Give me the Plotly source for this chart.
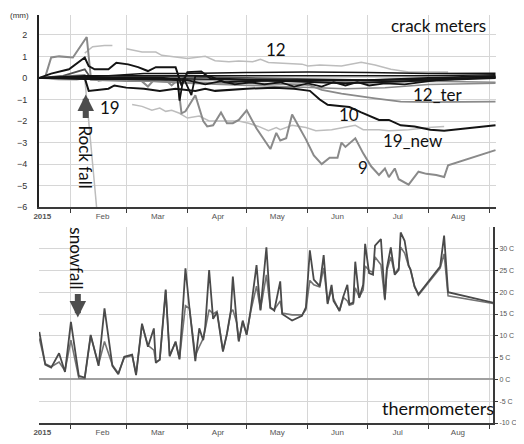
import plotly.graph_objects as go

# ---------------- crack meters (mm) ----------------
s9_dates = ["01-16","01-19","01-22","01-26","02-02","02-09","02-11","02-15","03-01","03-07","03-12","03-16","03-21","03-24","03-27","03-29","03-31","04-05","04-09","04-11","04-14","04-18","04-21","04-24","04-27","05-01","05-06","05-13","05-16","05-18","05-21","05-24","05-31","06-04","06-08","06-12","06-16","06-18","06-20","06-25","06-29","07-03","07-07","07-10","07-12","07-15","07-17","07-22","07-27","07-31","08-05","08-09","08-11","09-04"]
s9_vals = [0,0.05,0.95,1.0,0.95,1.9,0.1,-0.13,0.1,0.0,-0.4,0.0,-0.1,-0.35,-0.1,-1.64,-1.55,-0.8,-2.0,-2.25,-2.2,-1.6,-2.1,-2.1,-1.95,-1.5,-2.35,-3.3,-2.55,-2.9,-2.8,-1.7,-2.85,-3.6,-4.0,-3.7,-3.7,-3.0,-3.2,-2.8,-3.5,-4.1,-4.5,-4.2,-4.6,-4.2,-4.7,-4.95,-4.35,-4.45,-4.5,-4.6,-4.05,-3.35]

s10_dates = ["01-16","02-01","02-08","02-10","02-20","02-23","03-01","03-10","03-18","03-26","04-05","04-10","04-15","05-01","05-15","05-25","06-02","06-07","06-11","06-17","06-22","06-28","07-07","07-12","07-18","07-25","08-02","08-09","09-04"]
s10_vals = [0,0.02,0.0,-0.6,-0.5,-0.35,-0.45,-0.5,-0.6,-0.5,-0.6,-0.5,-0.6,-0.5,-0.45,-0.5,-0.6,-1.0,-1.25,-1.3,-1.35,-1.6,-1.95,-1.95,-2.2,-2.25,-2.4,-2.45,-2.2]

s12_dates = ["02-08","02-12","02-18","02-22","02-25","03-01","03-09","03-16","03-19","04-01","04-10","04-15","04-22","04-27","05-04","05-08","05-12","05-29","06-01","06-07","06-18","06-28","07-05","07-13","07-22","08-11"]
s12_vals = [1.15,1.45,1.5,1.5,None,1.35,1.2,1.2,1.05,0.9,1.0,0.8,0.75,0.78,0.75,0.86,0.72,0.64,0.55,0.6,0.55,0.73,0.6,0.4,0.27,0.27]

s12ter_dates = ["01-16","02-08","03-01","04-01","05-01","05-29","06-02","06-08","06-18","06-27","07-05","07-18","08-01","09-04"]
s12ter_vals = [0,-0.05,-0.1,-0.2,-0.25,-0.3,-0.35,-0.55,-0.73,-0.86,-0.95,-1.1,-1.12,-1.1]

s19_dates = ["01-16","01-26","02-04","02-08","02-15"]
s19_vals = [0,-0.08,-0.1,0.0,-7.0]

s19new_dates = ["03-04","03-09","03-14","03-18","03-21","03-24","03-28","04-01","04-07","04-12","04-18","04-27","05-02","05-07","05-12","05-16","05-18","05-24","05-31","06-05","06-13","06-20","06-25","06-29","07-07","07-12","07-22","08-01","08-09"]
s19new_vals = [-1.23,-1.32,-1.5,-1.4,-1.55,-1.5,-1.64,-1.86,-1.77,-2.0,-2.0,-2.0,-2.1,-2.25,-2.45,-2.3,-2.4,-2.2,-2.3,-2.45,-2.4,-2.3,-2.2,-2.4,-2.4,-2.45,-2.4,-2.3,-2.25]

# other crack meters (unlabelled)
g1_dates = ["01-16","02-08","02-11","03-01","03-20","04-01","05-01","06-01","07-01","08-01","09-04"]
g1_vals = [0,0.15,-0.1,-0.15,-0.15,-0.1,-0.1,-0.15,-0.2,-0.15,-0.2]
g2_dates = ["01-16","03-01","04-01","05-01","06-01","06-20","07-10","08-01","09-04"]
g2_vals = [0,-0.1,-0.25,-0.35,-0.45,-0.5,-0.45,-0.3,-0.25]

ktop_dates = ["01-16","02-08","02-20","03-10","04-01","05-01","06-01","07-01","08-01","09-04"]
ktop_vals = [0,0.05,0.1,0.2,0.2,0.25,0.27,0.25,0.2,0.22]
kp1_dates = ["01-16","01-22","01-31","02-08","02-10","02-13","02-20","02-24","03-02","03-07","03-12","03-16","03-26","03-29","04-01","04-08","04-13","04-22","05-05","05-20","06-05","06-20","07-05","07-20","08-10","09-04"]
kp1_vals = [0,0.2,0.4,0.95,0.55,0.4,0.4,0.7,0.63,0.5,0.32,0.5,0.5,-0.35,0.27,0.3,-0.05,-0.05,-0.1,-0.15,-0.2,-0.25,-0.2,-0.15,-0.05,0.0]
kp2_dates = ["01-16","01-28","02-08","02-11","03-01","04-01","05-01","06-01","07-01","08-01","09-04"]
kp2_vals = [0,0.1,0.4,0.0,0.05,0.05,0.0,-0.05,-0.1,-0.05,0.05]
kdip_dates = ["01-16","02-08","03-01","03-20","03-27","03-28","03-30","04-03","04-05","04-12","04-20","05-01","06-01","07-01","08-01","09-04"]
kdip_vals = [0,0.05,0.0,0.0,-0.1,-1.05,0.0,-0.8,0.1,0.1,-0.2,-0.15,-0.1,-0.1,0.0,0.1]
kwav_dates = ["01-16","02-08","03-01","04-01","04-10","04-18","04-25","05-03","05-10","05-18","05-25","06-01","06-08","06-14","06-20","06-26","07-02","07-10","07-20","08-05","09-04"]
kwav_vals = [0,-0.05,-0.05,-0.1,-0.3,-0.15,-0.3,-0.2,-0.3,-0.2,-0.4,-0.25,-0.4,-0.2,-0.35,-0.2,-0.35,-0.25,-0.3,-0.1,0.05]
kf1_dates = ["01-16","02-08","03-01","04-01","05-01","06-01","07-01","08-01","09-04"]
kf1_vals = [0,0.1,0.1,0.1,0.1,0.1,0.12,0.1,0.15]
kf2_dates = ["01-16","02-08","03-01","04-01","05-01","06-01","07-01","08-01","09-04"]
kf2_vals = [0,-0.02,0.0,-0.05,-0.08,-0.1,-0.12,-0.05,0.0]

# ---------------- thermometers (C) ----------------
t_dates = ["01-16","01-19","01-22","01-26","01-29","02-01","02-05","02-08","02-11","02-15","02-18","02-22","02-25","02-28","03-04","03-06","03-09","03-12","03-15","03-16","03-18","03-21","03-23","03-26","03-28","03-31","04-02","04-04","04-05","04-07","04-09","04-10","04-12","04-14","04-16","04-19","04-21","04-23","04-24","04-26","04-27","04-29","05-01","05-03","05-06","05-08","05-11","05-13","05-15","05-18","05-19","05-24","05-29","05-31","06-02","06-04","06-07","06-09","06-11","06-13","06-14","06-17","06-19","06-21","06-22","06-24","06-25","06-27","06-29","06-30","07-02","07-04","07-05","07-08","07-10","07-11","07-13","07-15","07-17","07-18","07-20","07-22","07-23","07-25","07-27","08-07","08-09","08-11","09-03"]
t_a = [10.9,3.4,2.7,6.0,1.7,13.2,0.8,0.4,10.2,3.1,16.3,3.1,1.2,5.2,5.7,1.0,12.8,7.5,11.7,3.8,4.6,20.6,5.3,8.7,4.6,25.5,16.5,8.7,4.2,11.7,9.0,12.0,25.1,13.9,15.4,6.4,10.5,15.8,23.6,12.8,8.7,13.5,10.2,15.8,26.2,15.8,30.3,16.5,15.8,22.5,15.0,13.5,14.6,16.5,29.6,22.9,21.4,28.5,17.3,21.7,18.0,15.8,19.1,21.7,17.3,17.6,27.0,18.7,21.7,31.1,24.4,24.0,30.7,32.2,18.4,25.5,30.3,24.0,25.1,33.7,31.8,26.2,25.1,21.4,19.5,25.9,33.0,20.0,17.6]
t_b = [9.4,3.6,2.9,4.0,2.0,9.0,0.3,0.2,10.0,3.4,8.7,3.3,1.4,5.0,5.5,1.2,12.5,7.8,6.7,4.0,4.4,20.4,5.5,8.5,4.8,16.9,16.3,8.9,5.5,7.5,9.4,11.5,16.0,15.0,15.6,6.6,10.2,15.5,16.0,13.0,8.9,13.2,10.4,15.5,21.4,16.0,24.0,16.3,16.0,18.0,15.2,14.8,14.8,16.0,22.7,21.7,21.2,25.6,17.6,20.5,18.5,15.6,18.8,18.0,17.0,17.3,21.0,18.9,20.5,26.0,25.0,24.5,28.1,26.3,18.2,25.0,28.1,24.3,25.5,30.3,29.0,26.0,25.3,21.2,19.3,25.5,28.8,19.2,17.4]

# axis ticks / labels
month_starts = ["2015-02-01","2015-03-01","2015-04-01","2015-05-01","2015-06-01","2015-07-01","2015-08-01","2015-09-01"]
month_label_pos = ["2015-01-17 12:00","2015-02-17","2015-03-17","2015-04-16 12:00","2015-05-16 12:00","2015-06-16","2015-07-16 12:00","2015-08-16"]
month_labels = ["<b>2015</b>","Feb","Mar","Apr","May","Jun","Jul","Aug"]
mm_ticks = [2,1,0,-1,-2,-3,-4,-5,-6]
c_ticks = [30,25,20,15,10,5,0,-5,-10]
c_labels = ["30 C","25 C","20 C","15 C","10 C","5 C","0 C","-5 C","-10 C"]

def d(lst):
    return ["2015-" + s for s in lst]

LG = "#bdbdbd"
MG = "#8a8a8a"
DG = "#505050"
BK = "#141414"
GRID = "#d6d6d6"

fig = go.Figure()

def add(dates, vals, color, width, xa="x", ya="y"):
    fig.add_trace(go.Scatter(x=d(dates), y=vals, mode="lines", line=dict(color=color, width=width),
                             connectgaps=False, showlegend=False, hoverinfo="skip", xaxis=xa, yaxis=ya))

add(s12_dates, s12_vals, LG, 1.5)
add(s19_dates, s19_vals, LG, 1.5)
add(s19new_dates, s19new_vals, LG, 1.5)
add(g1_dates, g1_vals, MG, 1.5)
add(g2_dates, g2_vals, MG, 1.5)
add(s12ter_dates, s12ter_vals, MG, 1.8)
add(s9_dates, s9_vals, MG, 2)
add(kp2_dates, kp2_vals, DG, 1.8)
add(kf2_dates, kf2_vals, BK, 1.5)
add(kf1_dates, kf1_vals, BK, 1.5)
add(ktop_dates, ktop_vals, BK, 1.5)
add(kwav_dates, kwav_vals, BK, 1.8)
add(kdip_dates, kdip_vals, BK, 1.8)
add(kp1_dates, kp1_vals, BK, 2)
add(s10_dates, s10_vals, BK, 2)

add(t_dates, t_b, "#747474", 1.6, "x2", "y2")
add(t_dates, t_a, "#4a4a4a", 1.8, "x2", "y2")

xcommon = dict(
    type="date",
    tickmode="array", tickvals=month_label_pos, ticktext=month_labels,
    ticks="", showgrid=False, zeroline=False,
    showline=True, linecolor="#3a3a3a", linewidth=2,
    tickfont=dict(family="Liberation Sans, Arial", size=8, color="#555"),
    minor=dict(tickmode="array", tickvals=month_starts, ticks="outside", ticklen=4,
               tickcolor="#3a3a3a", tickwidth=1, showgrid=True, gridcolor=GRID, gridwidth=1),
)

# page body has an 8px margin, so the figure is 8px smaller than the window
fig.update_layout(
    width=516, height=436,
    margin=dict(l=31, r=27, t=7, b=13),
    paper_bgcolor="white", plot_bgcolor="white",
    showlegend=False,
    xaxis=dict(domain=[0, 1], range=["2015-01-15 20:00", "2015-09-04 06:00"], anchor="y", **xcommon),
    yaxis=dict(domain=[0.5288, 1], range=[-6, 2.92], tickmode="array", tickvals=mm_ticks,
               showgrid=True, gridcolor=GRID, zeroline=False, showline=True,
               linecolor="#222", linewidth=2, ticks="", ticklabelstandoff=8,
               tickfont=dict(family="Liberation Sans, Arial", size=9, color="#333"), anchor="x"),
    xaxis2=dict(domain=[0, 0.9934], range=["2015-01-15 20:00", "2015-09-02 18:00"], anchor="y2", **xcommon),
    yaxis2=dict(domain=[0, 0.4808], range=[-10, 35], tickmode="array", tickvals=c_ticks, ticktext=c_labels,
                side="right", anchor="x2", showgrid=True, gridcolor=GRID,
                zeroline=True, zerolinecolor="#a0a0a0", zerolinewidth=1.5,
                showline=True, linecolor="#3a3a3a", linewidth=2, ticks="outside", ticklen=3,
                tickcolor="#3a3a3a",
                tickfont=dict(family="Liberation Sans, Arial", size=7, color="#555")),
)

lab = dict(family="Lato, Carlito, sans-serif", size=17, color="#111")
ann = [
    dict(text="(mm)", xref="paper", yref="paper", x=-0.042, y=1.0, showarrow=False,
         font=dict(family="Liberation Sans, Arial", size=8, color="#333"), xanchor="center", yanchor="middle"),
    dict(text="crack meters", x="2015-08-06", y=2.45, xref="x", yref="y", showarrow=False, font=lab),
    dict(text="12", x="2015-05-16", y=1.32, xref="x", yref="y", showarrow=False, font=lab),
    dict(text="12_ter", x="2015-08-06", y=-0.75, xref="x", yref="y", showarrow=False, font=lab),
    dict(text="10", x="2015-06-22", y=-1.68, xref="x", yref="y", showarrow=False, font=lab),
    dict(text="19_new", x="2015-07-24", y=-2.9, xref="x", yref="y", showarrow=False, font=lab),
    dict(text="9", x="2015-06-29", y=-4.14, xref="x", yref="y", showarrow=False, font=lab),
    dict(text="19", x="2015-02-21", y=-1.36, xref="x", yref="y", showarrow=False, font=lab),
    dict(text="Rock fall", x="2015-02-08 12:00", y=-3.68, xref="x", yref="y", showarrow=False,
         textangle=90, font=lab),
    dict(text="", x="2015-02-08 12:00", y=-0.77, xref="x", yref="y", showarrow=True,
         ax=0, ay=25, arrowhead=2, arrowsize=0.55, arrowwidth=6, arrowcolor="#4d4d4d", standoff=0),
    dict(text="thermometers", x="2015-08-06", y=-6.5, xref="x2", yref="y2", showarrow=False, font=dict(lab, size=18)),
    dict(text="snowfall", x="2015-02-04", y=27.8, xref="x2", yref="y2", showarrow=False,
         textangle=90, font=lab),
    dict(text="", x="2015-02-04 12:00", y=14.2, xref="x2", yref="y2", showarrow=True,
         ax=0, ay=-25, arrowhead=2, arrowsize=0.55, arrowwidth=6, arrowcolor="#4d4d4d", standoff=0),
]
fig.update_layout(annotations=ann)

fig.write_html("out.html")
